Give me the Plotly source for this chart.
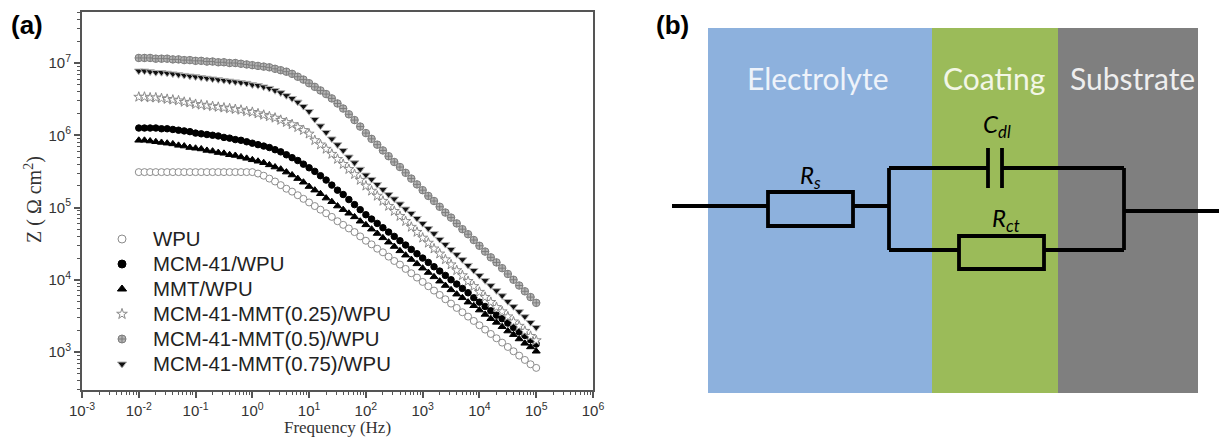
import plotly.graph_objects as go

W, H = 1219, 437

exponents = [-2 + i / 10 for i in range(71)]
frequency_hz = [10 ** e for e in exponents]

log_wpu = [5.49] * 21 + [
    5.47, 5.44, 5.40, 5.36, 5.31, 5.26, 5.22, 5.17, 5.12, 5.07,
    5.02, 4.97, 4.92, 4.87, 4.81, 4.76, 4.71, 4.66, 4.60, 4.54,
    4.49, 4.43, 4.38, 4.32, 4.26, 4.21, 4.15, 4.09, 4.03, 3.97,
    3.91, 3.85, 3.79, 3.73, 3.67, 3.61, 3.55, 3.49, 3.43, 3.37,
    3.31, 3.25, 3.19, 3.13, 3.07, 3.01, 2.95, 2.89, 2.83, 2.78]
log_mcm = [
    6.10, 6.10, 6.10, 6.10, 6.09, 6.09, 6.08, 6.07, 6.06, 6.05, 6.03,
    6.02, 6.01, 6.00, 5.99, 5.97, 5.96, 5.94, 5.93, 5.91, 5.89,
    5.87, 5.85, 5.83, 5.80, 5.77, 5.73, 5.69, 5.65, 5.60, 5.55,
    5.50, 5.44, 5.38, 5.31, 5.24, 5.18, 5.11, 5.04, 4.97, 4.90,
    4.84, 4.78, 4.72, 4.66, 4.60, 4.54, 4.48, 4.42, 4.36, 4.30,
    4.24, 4.18, 4.12, 4.06, 4.00, 3.94, 3.88, 3.82, 3.75, 3.69,
    3.63, 3.57, 3.51, 3.46, 3.40, 3.34, 3.28, 3.23, 3.17, 3.11]
log_mmt = [
    5.93, 5.93, 5.92, 5.91, 5.90, 5.89, 5.88, 5.86, 5.85, 5.83, 5.82,
    5.81, 5.79, 5.78, 5.76, 5.75, 5.73, 5.72, 5.70, 5.68, 5.66,
    5.64, 5.62, 5.59, 5.56, 5.53, 5.49, 5.45, 5.40, 5.35, 5.29,
    5.24, 5.19, 5.13, 5.08, 5.02, 4.97, 4.92, 4.87, 4.81, 4.76,
    4.70, 4.64, 4.58, 4.52, 4.46, 4.40, 4.34, 4.28, 4.22, 4.16,
    4.10, 4.04, 3.98, 3.92, 3.86, 3.80, 3.75, 3.69, 3.64, 3.58,
    3.52, 3.46, 3.41, 3.35, 3.29, 3.24, 3.18, 3.12, 3.07, 3.01]
log_025 = [
    6.53, 6.53, 6.52, 6.52, 6.51, 6.50, 6.49, 6.48, 6.46, 6.45, 6.43,
    6.42, 6.41, 6.40, 6.39, 6.38, 6.37, 6.36, 6.35, 6.33, 6.32,
    6.30, 6.28, 6.26, 6.24, 6.21, 6.18, 6.15, 6.11, 6.07, 6.02,
    5.93, 5.87, 5.81, 5.74, 5.67, 5.60, 5.53, 5.46, 5.38, 5.30,
    5.23, 5.16, 5.09, 5.02, 4.95, 4.88, 4.81, 4.73, 4.66, 4.58,
    4.51, 4.43, 4.36, 4.28, 4.21, 4.13, 4.06, 3.98, 3.91, 3.83,
    3.76, 3.69, 3.62, 3.56, 3.49, 3.42, 3.36, 3.29, 3.22, 3.16]
log_05 = [
    7.07, 7.07, 7.07, 7.06, 7.06, 7.06, 7.05, 7.05, 7.04, 7.04, 7.03,
    7.03, 7.02, 7.02, 7.01, 7.01, 7.00, 7.00, 6.99, 6.98, 6.97,
    6.96, 6.95, 6.94, 6.92, 6.90, 6.88, 6.85, 6.81, 6.77, 6.72,
    6.67, 6.62, 6.57, 6.51, 6.44, 6.37, 6.29, 6.21, 6.12, 6.03,
    5.95, 5.87, 5.79, 5.71, 5.63, 5.56, 5.48, 5.40, 5.32, 5.24,
    5.16, 5.09, 5.01, 4.93, 4.86, 4.78, 4.70, 4.63, 4.55, 4.47,
    4.39, 4.31, 4.24, 4.16, 4.08, 4.00, 3.92, 3.84, 3.76, 3.68]
log_075 = [
    6.89, 6.89, 6.88, 6.87, 6.87, 6.86, 6.85, 6.84, 6.83, 6.82, 6.81,
    6.80, 6.79, 6.78, 6.77, 6.76, 6.75, 6.74, 6.73, 6.72, 6.70,
    6.69, 6.67, 6.65, 6.62, 6.59, 6.55, 6.51, 6.46, 6.40, 6.33,
    6.22, 6.13, 6.04, 5.95, 5.87, 5.79, 5.70, 5.62, 5.53, 5.45,
    5.39, 5.32, 5.25, 5.18, 5.12, 5.05, 4.98, 4.92, 4.85, 4.78,
    4.71, 4.64, 4.56, 4.49, 4.42, 4.35, 4.28, 4.20, 4.13, 4.06,
    3.99, 3.92, 3.85, 3.78, 3.70, 3.63, 3.56, 3.49, 3.41, 3.34]

series_names = ["WPU", "MCM-41/WPU", "MMT/WPU", "MCM-41-MMT(0.25)/WPU",
                "MCM-41-MMT(0.5)/WPU", "MCM-41-MMT(0.75)/WPU"]
series_values = [log_wpu, log_mcm, log_mmt, log_025, log_05, log_075]
series_symbols = ["circle", "circle", "triangle-up", "star", "circle-cross", "triangle-down"]
series_fill = ["#ffffff", "#000000", "#000000", "#ffffff", "#b4b4b4", "#111111"]
series_edge = ["#8c8c8c", "#000000", "#000000", "#8a8a8a", "#7d7d7d", "#b0b0b0"]
series_size = [7, 6.5, 7, 7.5, 7.5, 7.5]

major_exps_x = list(range(-3, 7))
major_exps_y = list(range(3, 8))

zones = [("Electrolyte", 708, 932, "#8db1dd"), ("Coating", 932, 1058, "#9bbb59"),
         ("Substrate", 1058, 1198, "#7f7f7f")]
wires = [(672, 206, 768, 206), (853, 206, 889, 206), (889, 168, 889, 250),
         (889, 168, 988, 168), (1002, 168, 1124, 168), (1124, 168, 1124, 250),
         (889, 250, 959, 250), (1044, 250, 1124, 250), (1124, 211, 1219, 211),
         (988, 148, 988, 188), (1002, 148, 1002, 188)]
boxes = [(768, 192, 853, 226), (959, 236, 1044, 269)]
key_rows = [239, 264, 289, 314, 339, 364]

px = lambda x: x / W
py = lambda y: 1 - y / H

fig = go.Figure()
for name, vals, sym, fill, edge, size in zip(series_names, series_values, series_symbols,
                                             series_fill, series_edge, series_size):
    fig.add_trace(go.Scatter(
        x=frequency_hz, y=[10 ** v for v in vals], mode="markers", name=name,
        marker=dict(symbol=sym, size=size, color=fill, line=dict(color=edge, width=1)),
        hoverinfo="skip", showlegend=False))

# legend keys on a page-sized hidden axis pair
for name, row, sym, fill, edge in zip(series_names, key_rows, series_symbols, series_fill, series_edge):
    fig.add_trace(go.Scatter(
        x=[122], y=[row], xaxis="x2", yaxis="y2", mode="markers", name=name + " key",
        marker=dict(symbol=sym, size=8, color=fill, line=dict(color=edge, width=1)),
        hoverinfo="skip", showlegend=False))

shapes = []
for _, x0, x1, col in zones:
    shapes.append(dict(type="rect", xref="paper", yref="paper", x0=px(x0), x1=px(x1),
                       y0=py(393), y1=py(28), fillcolor=col, line_width=0, layer="below"))
for x0, y0, x1, y1 in wires:
    shapes.append(dict(type="line", xref="paper", yref="paper", x0=px(x0), x1=px(x1),
                       y0=py(y0), y1=py(y1), line=dict(color="#000000", width=3.8)))
for x0, y0, x1, y1 in boxes:
    shapes.append(dict(type="rect", xref="paper", yref="paper", x0=px(x0), x1=px(x1),
                       y0=py(y0), y1=py(y1), line=dict(color="#000000", width=3.8)))

def note(text, x, y, size, family="Lato", color="#000000", anchor="center", angle=0):
    return dict(text=text, xref="paper", yref="paper", x=px(x), y=py(y), showarrow=False,
                xanchor=anchor, yanchor="middle", textangle=angle,
                font=dict(family=family, size=size, color=color))

annotations = [
    note("<b>(a)</b>", 27, 25, 26, "Liberation Sans"),
    note("<b>(b)</b>", 672, 25, 26, "Liberation Sans"),
    note("Electrolyte", 818, 78, 30, color="#eef3fa"),
    note("Coating", 994, 78, 30, color="#f2f6e6"),
    note("Substrate", 1132, 78, 30, color="#eeeeee"),
    note("<i>R<sub>s</sub></i>", 810, 176, 24),
    note("<i>C<sub>dl</sub></i>", 997, 126, 24),
    note("<i>R<sub>ct</sub></i>", 1006, 219, 24),
    note("Z ( Ω cm<sup>2</sup>)", 33, 200, 20, "Liberation Serif", "#333333", angle=-90),
]
for name, row in zip(series_names, key_rows):
    annotations.append(note(name, 151, row, 20.4, "Liberation Sans", "#222222", "left"))

axis_common = dict(type="log", showgrid=False, zeroline=False, showline=True, automargin=False,
                   mirror=True, linecolor="#555555", linewidth=2, ticks="outside",
                   ticklen=6, tickwidth=1.5, tickcolor="#555555",
                   tickfont=dict(family="Liberation Sans", size=15, color="#333333"),
                   minor=dict(ticks="outside", dtick="D1", ticklen=3, tickcolor="#555555",
                              tickwidth=1, showgrid=False))

fig.update_layout(
    width=W, height=H, margin=dict(l=0, r=0, t=0, b=0),
    paper_bgcolor="#ffffff", plot_bgcolor="rgba(0,0,0,0)", showlegend=False,
    xaxis=dict(axis_common, domain=[px(82), px(593)], range=[-3, 6],
               tickmode="array", tickvals=[10 ** e for e in major_exps_x],
               ticktext=[f"10<sup>{e}</sup>" for e in major_exps_x],
               title=dict(text="Frequency (Hz)", standoff=6,
                          font=dict(family="Liberation Serif", size=17, color="#333333"))),
    yaxis=dict(axis_common, domain=[py(390), py(12)], range=[2.474, 7.706],
               tickmode="array", tickvals=[10 ** e for e in major_exps_y],
               ticktext=[f"10<sup>{e}</sup>" for e in major_exps_y]),
    xaxis2=dict(domain=[0, 1], range=[0, W], visible=False, anchor="y2", fixedrange=True),
    yaxis2=dict(domain=[0, 1], range=[H, 0], visible=False, anchor="x2", fixedrange=True),
    shapes=shapes, annotations=annotations,
)

fig.write_html("out.html", config=dict(displayModeBar=False),
               post_script="document.body.style.margin='0';")
